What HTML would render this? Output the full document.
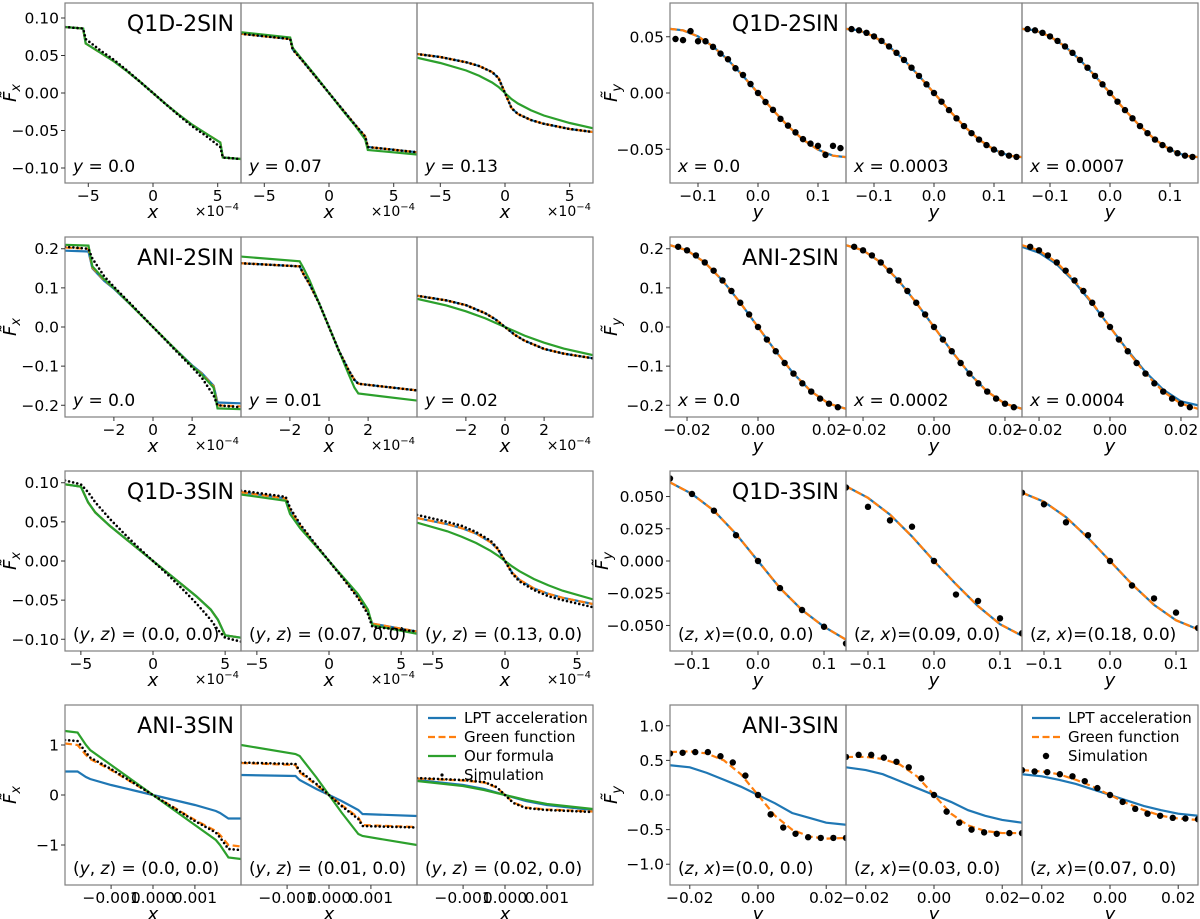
<!DOCTYPE html>
<html><head><meta charset="utf-8"><style>
html,body{margin:0;padding:0;background:#fff;}
svg{display:block;font-family:"DejaVu Sans","Liberation Sans",sans-serif;}
</style></head><body>
<svg id="fig" width="1200" height="919" viewBox="0 0 1200 919" xmlns="http://www.w3.org/2000/svg"></svg>
<script>
// ---------- DATA ----------
const l1p1x = [-6.8,-5.4,-5.2,-4,-3,-2,-1,0,1,2,3,4,5.2,5.4,6.8];
const l1p1line = [0.088,0.086,0.066,0.053,0.042,0.029,0.015,0,-0.015,-0.029,-0.042,-0.053,-0.066,-0.086,-0.088];
const l1p1sim = [0.088,0.086,0.072,0.056,0.044,0.030,0.015,0,-0.015,-0.030,-0.044,-0.056,-0.072,-0.086,-0.088];
const l1p2x = [-6.8,-3,-2.8,-2,-1,0,1,2,2.8,3,6.8];
const l1p2line = [0.079,0.072,0.058,0.042,0.021,0,-0.021,-0.042,-0.058,-0.072,-0.079];
const l1p2green = [0.081,0.074,0.060,0.043,0.022,0,-0.022,-0.043,-0.062,-0.076,-0.082];
const l1p3x = [-6.8,-5,-3,-2,-1,-0.5,0,0.5,1,2,3,5,6.8];
const l1p3line = [0.052,0.048,0.041,0.036,0.028,0.02,0,-0.02,-0.028,-0.036,-0.041,-0.048,-0.052];
const l1p3green = [0.047,0.040,0.030,0.023,0.014,0.008,0,-0.008,-0.014,-0.023,-0.030,-0.040,-0.047];
const l2p1x = [-4.5,-3.3,-3.1,-2.5,-2,-1,0,1,2,2.5,3.1,3.3,4.5];
const l2p1blue = [0.195,0.193,0.15,0.118,0.098,0.05,0,-0.05,-0.098,-0.118,-0.15,-0.193,-0.195];
const l2p1orange = [0.203,0.2,0.152,0.12,0.1,0.05,0,-0.05,-0.1,-0.12,-0.152,-0.2,-0.203];
const l2p1green = [0.21,0.208,0.155,0.122,0.1,0.05,0,-0.05,-0.1,-0.122,-0.155,-0.208,-0.21];
const l2p1sim = [0.205,0.2,0.175,0.13,0.103,0.052,0,-0.052,-0.103,-0.13,-0.175,-0.2,-0.205];
const l2p2x = [-4.5,-1.5,-1.3,-1,-0.5,0,0.5,1,1.3,1.5,4.5];
const l2p2line = [0.163,0.155,0.135,0.11,0.06,0,-0.06,-0.11,-0.135,-0.145,-0.162];
const l2p2green = [0.18,0.168,0.15,0.12,0.06,0,-0.06,-0.12,-0.155,-0.17,-0.188];
const l2p3x = [-4.5,-3,-2,-1,-0.5,0,0.5,1,2,3,4.5];
const l2p3line = [0.08,0.068,0.056,0.035,0.02,0,-0.02,-0.035,-0.056,-0.068,-0.08];
const l2p3green = [0.072,0.055,0.04,0.022,0.011,0,-0.011,-0.022,-0.04,-0.055,-0.072];
const l3p1x = [-6.1,-5,-4.5,-4,-3,-2,-1,0,1,2,3,4,4.5,5,6.1];
const l3p1line = [0.098,0.095,0.075,0.062,0.045,0.030,0.015,0,-0.015,-0.030,-0.045,-0.062,-0.075,-0.095,-0.098];
const l3p1sim = [0.103,0.098,0.088,0.075,0.054,0.035,0.017,0,-0.017,-0.035,-0.054,-0.075,-0.088,-0.098,-0.103];
const l3p2x = [-6.1,-3,-2.7,-2,-1,0,1,2,2.7,3,6.1];
const l3p2line = [0.088,0.08,0.065,0.045,0.022,0,-0.022,-0.045,-0.065,-0.08,-0.09];
const l3p2green = [0.085,0.077,0.06,0.042,0.021,0,-0.021,-0.042,-0.062,-0.082,-0.093];
const l3p2sim = [0.09,0.082,0.068,0.047,0.023,0,-0.023,-0.047,-0.068,-0.084,-0.09];
const l3p3x = [-6.1,-4,-3,-2,-1,-0.5,0,0.5,1,2,3,4,6.1];
const l3p3line = [0.055,0.047,0.042,0.035,0.024,0.015,0,-0.015,-0.024,-0.035,-0.042,-0.047,-0.055];
const l3p3green = [0.049,0.038,0.031,0.023,0.013,0.007,0,-0.007,-0.013,-0.023,-0.031,-0.038,-0.049];
const l3p3sim = [0.059,0.05,0.045,0.037,0.026,0.016,0,-0.016,-0.026,-0.037,-0.045,-0.05,-0.059];
const l4p1x = [-2.1,-1.8,-1.6,-1.5,-1,-0.5,0,0.5,1,1.5,1.6,1.8,2.1];
const l4p1blue = [0.47,0.47,0.36,0.32,0.2,0.1,0,-0.1,-0.2,-0.32,-0.36,-0.47,-0.47];
const l4p1orange = [1.03,1.0,0.8,0.72,0.5,0.25,0,-0.25,-0.5,-0.72,-0.8,-1.0,-1.03];
const l4p1green = [1.28,1.25,1.0,0.9,0.6,0.3,0,-0.3,-0.6,-0.9,-1.0,-1.25,-1.28];
const l4p1sim = [1.1,1.08,0.85,0.75,0.52,0.26,0,-0.26,-0.52,-0.75,-0.85,-1.08,-1.1];
const l4p2x = [-2.1,-0.8,-0.7,-0.3,0,0.3,0.7,0.8,2.1];
const l4p2blue = [0.4,0.38,0.3,0.12,0,-0.12,-0.3,-0.38,-0.42];
const l4p2orange = [0.64,0.6,0.45,0.2,0,-0.2,-0.45,-0.6,-0.64];
const l4p2green = [1.0,0.82,0.78,0.35,0,-0.35,-0.78,-0.82,-1.0];
const l4p2sim = [0.65,0.62,0.48,0.22,0,-0.22,-0.48,-0.62,-0.65];
const l4p3x = [-2.1,-1,-0.5,-0.2,0,0.2,0.5,1,2.1];
const l4p3blue = [0.3,0.2,0.12,0.05,0,-0.05,-0.12,-0.2,-0.3];
const l4p3orange = [0.33,0.29,0.25,0.15,0,-0.15,-0.25,-0.29,-0.33];
const l4p3green = [0.28,0.18,0.1,0.04,0,-0.04,-0.1,-0.18,-0.28];
const l4p3sim = [0.34,0.3,0.26,0.16,0,-0.16,-0.26,-0.3,-0.34];
const r1x = [-0.147,-0.125,-0.1,-0.075,-0.05,-0.025,0,0.025,0.05,0.075,0.1,0.125,0.147];
const r1line = [0.057,0.0557,0.0503,0.0414,0.0294,0.0152,0,-0.0152,-0.0294,-0.0414,-0.0503,-0.0557,-0.057];
const r1dx = [-0.1375,-0.125,-0.1125,-0.1,-0.0875,-0.075,-0.0625,-0.05,-0.0375,-0.025,-0.0125,0,0.0125,0.025,0.0375,0.05,0.0625,0.075,0.0875,0.1,0.1125,0.125,0.1375];
const r1p1sim = [0.048,0.047,0.055,0.046,0.046,0.041,0.035,0.030,0.022,0.016,0.008,0,-0.008,-0.015,-0.023,-0.029,-0.035,-0.041,-0.045,-0.047,-0.055,-0.047,-0.049];
const r1sim = [0.0568,0.0557,0.0535,0.0503,0.0463,0.0414,0.0357,0.0294,0.0225,0.0152,0.0077,0,-0.0077,-0.0152,-0.0225,-0.0294,-0.0357,-0.0414,-0.0463,-0.0503,-0.0535,-0.0557,-0.0568];
const r2x = [-0.0248,-0.02,-0.015,-0.01,-0.005,0,0.005,0.01,0.015,0.02,0.0248];
const r2line = [0.209,0.196,0.165,0.119,0.062,0,-0.062,-0.119,-0.165,-0.196,-0.209];
const r2p3blue = [0.205,0.19,0.16,0.115,0.06,0,-0.06,-0.115,-0.16,-0.19,-0.2];
const r2dx = [-0.0225,-0.02,-0.0175,-0.015,-0.0125,-0.01,-0.0075,-0.005,-0.0025,0,0.0025,0.005,0.0075,0.01,0.0125,0.015,0.0175,0.02,0.0225];
const r2sim = [0.205,0.196,0.183,0.165,0.144,0.119,0.092,0.062,0.032,0,-0.032,-0.062,-0.092,-0.119,-0.144,-0.165,-0.183,-0.196,-0.205];
const r3x = [-0.1333,-0.1,-0.0667,-0.0333,0,0.0333,0.0667,0.1,0.1333];
const r3p1line = [0.061,0.052,0.039,0.021,0,-0.021,-0.038,-0.051,-0.061];
const r3p1sim = [0.064,0.052,0.039,0.020,0,-0.021,-0.038,-0.051,-0.064];
const r3p2line = [0.058,0.049,0.036,0.019,0,-0.018,-0.035,-0.049,-0.058];
const r3p2sim = [0.057,0.042,0.0315,0.0266,0,-0.026,-0.031,-0.0445,-0.056];
const r3p3line = [0.053,0.046,0.034,0.018,0,-0.018,-0.034,-0.046,-0.053];
const r3p3sim = [0.053,0.044,0.030,0.020,0,-0.019,-0.029,-0.040,-0.052];
const r4x = [-0.0258,-0.02,-0.015,-0.01,-0.005,0,0.005,0.01,0.015,0.02,0.0258];
const r4p1orange = [0.62,0.63,0.6,0.5,0.3,0,-0.3,-0.5,-0.6,-0.63,-0.62];
const r4p1blue = [0.43,0.4,0.32,0.22,0.12,0,-0.12,-0.26,-0.33,-0.4,-0.43];
const r4dx = [-0.0258,-0.0221,-0.0184,-0.0147,-0.011,-0.0074,-0.0037,0,0.0037,0.0074,0.011,0.0147,0.0184,0.0221,0.0258];
const r4p1sim = [0.6,0.61,0.62,0.62,0.56,0.47,0.28,0,-0.28,-0.47,-0.56,-0.61,-0.62,-0.62,-0.62];
const r4p2orange = [0.55,0.55,0.52,0.44,0.27,0,-0.27,-0.44,-0.52,-0.55,-0.55];
const r4p2blue = [0.4,0.36,0.3,0.2,0.1,0,-0.1,-0.22,-0.3,-0.36,-0.4];
const r4p2sim = [0.55,0.58,0.58,0.54,0.48,0.4,0.24,0,-0.24,-0.4,-0.5,-0.54,-0.56,-0.55,-0.55];
const r4p3orange = [0.36,0.34,0.3,0.22,0.12,0,-0.12,-0.22,-0.3,-0.34,-0.36];
const r4p3blue = [0.3,0.27,0.22,0.16,0.08,0,-0.08,-0.16,-0.22,-0.27,-0.3];
const r4p3sim = [0.36,0.34,0.33,0.3,0.27,0.2,0.1,0,-0.1,-0.2,-0.27,-0.3,-0.33,-0.34,-0.35];

const ytL1 = [-0.10,-0.05,0,0.05,0.10], ytL1lab = ["\u22120.10","\u22120.05","0.00","0.05","0.10"];
const ytL2 = [-0.2,-0.1,0,0.1,0.2], ytL2lab = ["\u22120.2","\u22120.1","0.0","0.1","0.2"];
const ytL4 = [-1,0,1], ytL4lab = ["\u22121","0","1"];
const ytR1 = [-0.05,0,0.05], ytR1lab = ["\u22120.05","0.00","0.05"];
const ytR3 = [-0.05,-0.025,0,0.025,0.05], ytR3lab = ["\u22120.050","\u22120.025","0.000","0.025","0.050"];
const ytR4 = [-1,-0.5,0,0.5,1], ytR4lab = ["\u22121.0","\u22120.5","0.0","0.5","1.0"];
const xt5 = [-5,0,5], xt5lab = ["\u22125","0","5"];
const xt2 = [-2,0,2], xt2lab = ["\u22122","0","2"];
const xt1m = [-1,0,1], xt1mlab = ["\u22120.001","0.000","0.001"];
const xtR1 = [-0.1,0,0.1], xtR1lab = ["\u22120.1","0.0","0.1"];
const xtR2 = [-0.02,0,0.02], xtR2lab = ["\u22120.02","0.00","0.02"];

// ---------- DRAWING ----------
const NS = "http://www.w3.org/2000/svg";
const svg = document.getElementById('fig');
const C = {blue:"#1f77b4", orange:"#ff7f0e", green:"#2ca02c"};
const FT = 15.5, FTITLE = 22, FANN = 17, FLAB = 18, FLEG = 15;
function mk(tag, parent){ const e=document.createElementNS(NS,tag); parent.appendChild(e); return e; }
function txt(parent, x, y, s, size, anchor, extra){
  const t=mk('text',parent); t.setAttribute('x',x); t.setAttribute('y',y);
  t.setAttribute('font-size',size); t.setAttribute('text-anchor',anchor||'middle');
  if(extra) t.setAttribute('font-style',extra);
  t.textContent=s; return t;
}
const tops=[3,237,471,705], H=180, W=176;
const leftX=[65,241,417], rightX=[670,846,1022];
let clipId=0;

function panel(o){
  const g=mk('g',svg);
  
  
  const x0=o.x, y0=o.y;
  const sx=v=>x0+(v-o.xd[0])/(o.xd[1]-o.xd[0])*W;
  const sy=v=>y0+H-(v-o.yd[0])/(o.yd[1]-o.yd[0])*H;
  const cp=mk('clipPath',g); const cid='c'+(clipId++); cp.setAttribute('id',cid);
  const cr=mk('rect',cp); cr.setAttribute('x',x0); cr.setAttribute('y',y0); cr.setAttribute('width',W); cr.setAttribute('height',H);
  const plot=mk('g',g); plot.setAttribute('clip-path','url(#'+cid+')');
  o.series.forEach(s=>{
    if(s.kind==='dots'){
      const dg=mk('g',plot);
      
      
      s.xs.forEach((xv,i)=>{
        const c=mk('circle',dg); c.setAttribute('cx',sx(xv)); c.setAttribute('cy',sy(s.ys[i])); c.setAttribute('r',3.2); c.setAttribute('fill','#000');
      });
    } else {
      const p=mk('path',plot);
      
      
      p.setAttribute('d',s.xs.map((xv,i)=>(i?'L':'M')+sx(xv).toFixed(2)+' '+sy(s.ys[i]).toFixed(2)).join(''));
      p.setAttribute('fill','none');
      if(s.kind==='dotted'){ p.setAttribute('stroke','#000'); p.setAttribute('stroke-width','2.6'); p.setAttribute('stroke-dasharray','0 4.2'); p.setAttribute('stroke-linecap','round'); }
      else { p.setAttribute('stroke',C[s.kind]); p.setAttribute('stroke-width','2.2');
        if(s.kind==='orange') p.setAttribute('stroke-dasharray','7 3.5'); }
    }
  });
  const fr=mk('rect',g); fr.setAttribute('x',x0); fr.setAttribute('y',y0); fr.setAttribute('width',W); fr.setAttribute('height',H);
  fr.setAttribute('fill','none'); fr.setAttribute('stroke','#7f7f7f'); fr.setAttribute('stroke-width','1.2');
  o.xt.forEach((v,i)=>{
    const X=sx(v); const l=mk('line',g); l.setAttribute('x1',X); l.setAttribute('x2',X); l.setAttribute('y1',y0+H); l.setAttribute('y2',y0+H+4); l.setAttribute('stroke','#333');
    const t=txt(g,X,y0+H+18,o.xtl[i],FT,'middle');
    
    
  });
  const xl=txt(g,x0+W/2,y0+H+35,o.xlab,FLAB,'middle','italic');
  
  
  if(o.offset){
    const ot=mk('text',g); ot.setAttribute('x',x0+W-2); ot.setAttribute('y',y0+H+33); ot.setAttribute('font-size',14); ot.setAttribute('text-anchor','end');
    
    
    ot.innerHTML='\u00d710<tspan dy="-6" font-size="10">\u22124</tspan>';
  }
  if(o.yt){
    o.yt.forEach((v,i)=>{
      const Y=sy(v); const l=mk('line',g); l.setAttribute('x1',x0-4); l.setAttribute('x2',x0); l.setAttribute('y1',Y); l.setAttribute('y2',Y); l.setAttribute('stroke','#333');
      const t=txt(g,x0-6,Y+5.5,o.ytl[i],FT,'end');
      
      
    });
    const yl=mk('text',g); const lx=o.ylx, ly=y0+H/2;
    yl.setAttribute('transform','translate('+lx+','+ly+') rotate(-90)');
    yl.setAttribute('font-size',FLAB); yl.setAttribute('text-anchor','middle'); yl.setAttribute('font-style','italic');
    
    
    yl.innerHTML='F\u0303<tspan dy="4" font-size="13">'+o.ysub+'</tspan>';
  }
  if(o.title){
    const tt=txt(g,x0+W-7,y0+28,o.title,FTITLE,'end');
    
    
  }
  const an=mk('text',g); an.setAttribute('x',x0+8); an.setAttribute('y',y0+H-11); an.setAttribute('font-size',FANN);
  
  
  an.innerHTML=o.ann;
}
function L(kind,xs,ys,name){return {kind,xs,ys,name};}
function leftSeries(x,b,o,gr,s){return [L('blue',x,b,'lpt-line'),L('orange',x,o,'green-function-line'),L('green',x,gr,'our-formula-line'),L('dotted',x,s,'simulation-dots')];}
function rightSeries(x,b,o,dx,s){return [L('blue',x,b,'lpt-line'),L('orange',x,o,'green-function-line'),L('dots',dx,s,'simulation-dots')];}
const I=s=>'<tspan font-style="italic">'+s+'</tspan>';

const leftRows=[
 {xd:[-6.8,6.8],yd:[-0.12,0.12],xt:xt5,xtl:xt5lab,yt:ytL1,ytl:ytL1lab,title:'Q1D-2SIN',offset:true,
  anns:[I('y')+' = 0.0',I('y')+' = 0.07',I('y')+' = 0.13'],
  ser:[leftSeries(l1p1x,l1p1line,l1p1line,l1p1line,l1p1sim),leftSeries(l1p2x,l1p2line,l1p2line,l1p2green,l1p2line),leftSeries(l1p3x,l1p3line,l1p3line,l1p3green,l1p3line)]},
 {xd:[-4.5,4.5],yd:[-0.23,0.23],xt:xt2,xtl:xt2lab,yt:ytL2,ytl:ytL2lab,title:'ANI-2SIN',offset:true,
  anns:[I('y')+' = 0.0',I('y')+' = 0.01',I('y')+' = 0.02'],
  ser:[leftSeries(l2p1x,l2p1blue,l2p1orange,l2p1green,l2p1sim),leftSeries(l2p2x,l2p2line,l2p2line,l2p2green,l2p2line),leftSeries(l2p3x,l2p3line,l2p3line,l2p3green,l2p3line)]},
 {xd:[-6.1,6.1],yd:[-0.115,0.115],xt:xt5,xtl:xt5lab,yt:ytL1,ytl:ytL1lab,title:'Q1D-3SIN',offset:true,
  anns:['('+I('y')+', '+I('z')+') = (0.0, 0.0)','('+I('y')+', '+I('z')+') = (0.07, 0.0)','('+I('y')+', '+I('z')+') = (0.13, 0.0)'],
  ser:[leftSeries(l3p1x,l3p1line,l3p1line,l3p1line,l3p1sim),leftSeries(l3p2x,l3p2line,l3p2line,l3p2green,l3p2sim),leftSeries(l3p3x,l3p3line,l3p3line,l3p3green,l3p3sim)]},
 {xd:[-2.1,2.1],yd:[-1.8,1.8],xt:xt1m,xtl:xt1mlab,yt:ytL4,ytl:ytL4lab,title:'ANI-3SIN',offset:false,
  anns:['('+I('y')+', '+I('z')+') = (0.0, 0.0)','('+I('y')+', '+I('z')+') = (0.01, 0.0)','('+I('y')+', '+I('z')+') = (0.02, 0.0)'],
  ser:[leftSeries(l4p1x,l4p1blue,l4p1orange,l4p1green,l4p1sim),leftSeries(l4p2x,l4p2blue,l4p2orange,l4p2green,l4p2sim),leftSeries(l4p3x,l4p3blue,l4p3orange,l4p3green,l4p3sim)]}
];
const rightRows=[
 {xd:[-0.1467,0.1467],yd:[-0.08,0.08],xt:xtR1,xtl:xtR1lab,yt:ytR1,ytl:ytR1lab,title:'Q1D-2SIN',
  anns:[I('x')+' = 0.0',I('x')+' = 0.0003',I('x')+' = 0.0007'],
  ser:[rightSeries(r1x,r1line,r1line,r1dx,r1p1sim),rightSeries(r1x,r1line,r1line,r1dx,r1sim),rightSeries(r1x,r1line,r1line,r1dx,r1sim)]},
 {xd:[-0.0248,0.0248],yd:[-0.23,0.23],xt:xtR2,xtl:xtR2lab,yt:ytL2,ytl:ytL2lab,title:'ANI-2SIN',
  anns:[I('x')+' = 0.0',I('x')+' = 0.0002',I('x')+' = 0.0004'],
  ser:[rightSeries(r2x,r2line,r2line,r2dx,r2sim),rightSeries(r2x,r2line,r2line,r2dx,r2sim),rightSeries(r2x,r2p3blue,r2line,r2dx,r2sim)]},
 {xd:[-0.1333,0.1333],yd:[-0.0698,0.0698],xt:xtR1,xtl:xtR1lab,yt:ytR3,ytl:ytR3lab,title:'Q1D-3SIN',
  anns:['('+I('z')+', '+I('x')+')=(0.0, 0.0)','('+I('z')+', '+I('x')+')=(0.09, 0.0)','('+I('z')+', '+I('x')+')=(0.18, 0.0)'],
  ser:[rightSeries(r3x,r3p1line,r3p1line,r3x,r3p1sim),rightSeries(r3x,r3p2line,r3p2line,r3x,r3p2sim),rightSeries(r3x,r3p3line,r3p3line,r3x,r3p3sim)]},
 {xd:[-0.0258,0.0258],yd:[-1.3,1.3],xt:xtR2,xtl:xtR2lab,yt:ytR4,ytl:ytR4lab,title:'ANI-3SIN',
  anns:['('+I('z')+', '+I('x')+')=(0.0, 0.0)','('+I('z')+', '+I('x')+')=(0.03, 0.0)','('+I('z')+', '+I('x')+')=(0.07, 0.0)'],
  ser:[rightSeries(r4x,r4p1blue,r4p1orange,r4dx,r4p1sim),rightSeries(r4x,r4p2blue,r4p2orange,r4dx,r4p2sim),rightSeries(r4x,r4p3blue,r4p3orange,r4dx,r4p3sim)]}
];
leftRows.forEach((r,ri)=>{
  for(let k=0;k<3;k++){
    panel({name:'fx-panel-row'+(ri+1)+'-col'+(k+1),x:leftX[k],y:tops[ri],xd:r.xd,yd:r.yd,xt:r.xt,xtl:r.xtl,
      yt:k===0?r.yt:null,ytl:r.ytl,ylx:16,ysub:'x',xlab:'x',offset:r.offset,title:k===0?r.title:null,ann:r.anns[k],series:r.ser[k]});
  }
});
rightRows.forEach((r,ri)=>{
  for(let k=0;k<3;k++){
    panel({name:'fy-panel-row'+(ri+1)+'-col'+(k+1),x:rightX[k],y:tops[ri],xd:r.xd,yd:r.yd,xt:r.xt,xtl:r.xtl,
      yt:k===0?r.yt:null,ytl:r.ytl,ylx:r.yt===ytR3?608:617,ysub:'y',xlab:'y',offset:false,title:k===0?r.title:null,ann:r.anns[k],series:r.ser[k]});
  }
});
function legend(x,y,entries,name){
  const g=mk('g',svg);
  
  
  entries.forEach((e,i)=>{
    const Y=y+i*19;
    if(e.k==='dot'||e.k==='smalldot'){
      const c=mk('circle',g); c.setAttribute('cx',x+14); c.setAttribute('cy',Y); c.setAttribute('r',e.k==='dot'?3.2:1.6); c.setAttribute('fill','#000');
    } else {
      const l=mk('line',g); l.setAttribute('x1',x); l.setAttribute('x2',x+28); l.setAttribute('y1',Y); l.setAttribute('y2',Y);
      l.setAttribute('stroke',C[e.k]); l.setAttribute('stroke-width','2.2'); if(e.k==='orange') l.setAttribute('stroke-dasharray','7 3.5');
    }
    const t=txt(g,x+36,Y+5,e.t,FLEG,'start');
    
    
  });
}
legend(428,718,[{k:'blue',t:'LPT acceleration'},{k:'orange',t:'Green function'},{k:'green',t:'Our formula'},{k:'smalldot',t:'Simulation'}],'legend-fx');
legend(1032,718,[{k:'blue',t:'LPT acceleration'},{k:'orange',t:'Green function'},{k:'dot',t:'Simulation'}],'legend-fy');
</script>
</body></html>
